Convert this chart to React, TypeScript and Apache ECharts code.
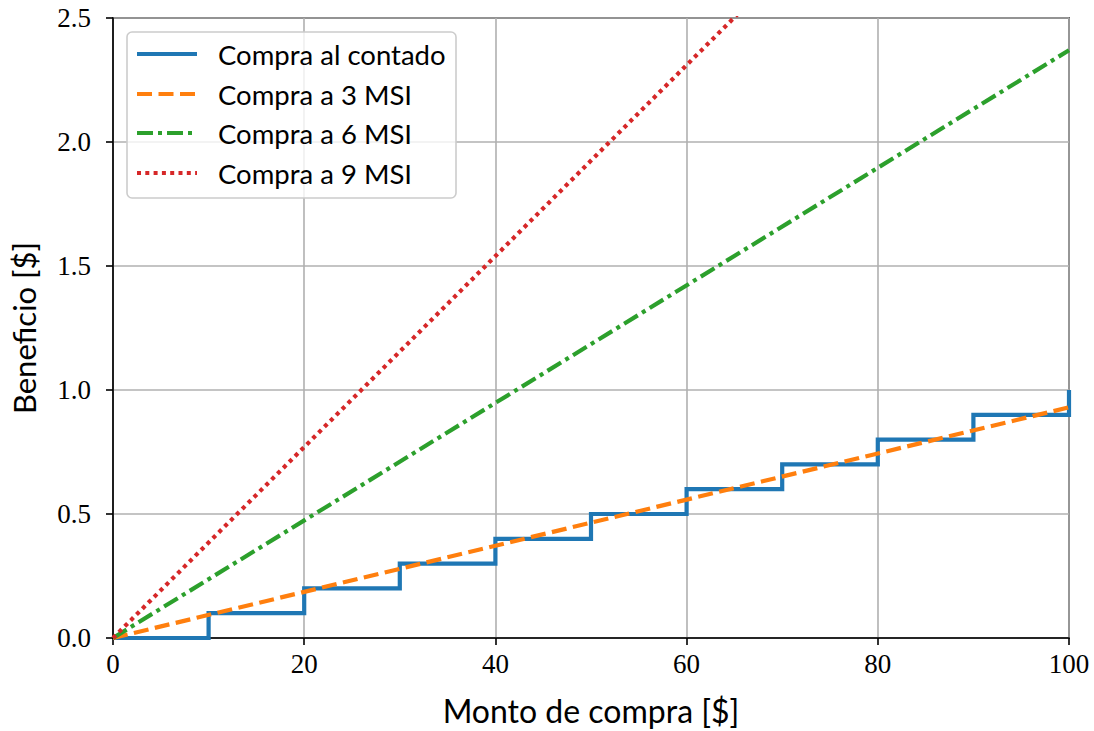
import React, { useEffect, useRef } from "react";
import * as echarts from "echarts";

const montos = [0, 100];
const beneficio3MSI = [0, 0.93];
const beneficio6MSI = [0, 2.37];
const beneficio9MSI = [0, 3.85];
const pasosContado = [0, 10, 20, 30, 40, 50, 60, 70, 80, 90, 100];
const beneficioContado = [0, 0.1, 0.2, 0.3, 0.4, 0.5, 0.6, 0.7, 0.8, 0.9, 1.0];
const nombres = ["Compra al contado", "Compra a 3 MSI", "Compra a 6 MSI", "Compra a 9 MSI"];
const colores = ["#1f77b4", "#ff7f0e", "#2ca02c", "#d62728"];
const xTicks = [0, 20, 40, 60, 80, 100];
const yTicks = [0, 0.5, 1.0, 1.5, 2.0, 2.5];

const SANS = "Lato, 'Noto Sans', 'DejaVu Sans', sans-serif";
const SERIF = "'Liberation Serif', 'DejaVu Serif', serif";

const LW = 4.2;
const dashes: (number[] | null)[] = [null, [15, 6.5], [16, 5, 4, 5], [4, 4.3]];

export default function App() {
  const ref = useRef<HTMLDivElement>(null);
  useEffect(() => {
    if (!ref.current) return;
    const chart = echarts.init(ref.current, null, { renderer: "svg" });
    const pair = (xs: number[], ys: number[]) => xs.map((x, i) => [x, ys[i]]);

    const legendX = 127;
    const legendY = 32;
    const rowY = [54, 94, 133, 173];
    const legendItems: any[] = [
      {
        type: "rect",
        shape: { x: legendX, y: legendY, width: 329, height: 166, r: 5 },
        style: { fill: "rgba(255,255,255,0.8)", stroke: "#cccccc", lineWidth: 1.6 },
        z: 50,
      },
    ];
    nombres.forEach((n, i) => {
      legendItems.push({
        type: "line",
        shape: { x1: 137, y1: rowY[i], x2: 197, y2: rowY[i] },
        style: {
          stroke: colores[i],
          lineWidth: LW,
          lineDash: dashes[i] || undefined,
          lineCap: "butt",
        },
        z: 51,
      });
      legendItems.push({
        type: "text",
        x: 218,
        y: rowY[i],
        style: {
          text: n,
          fontFamily: SANS,
          fontSize: 27.5,
          fill: "#000",
          verticalAlign: "middle",
          align: "left",
        },
        z: 51,
      });
    });

    const axisCommon = {
      axisLine: { show: true, onZero: false, lineStyle: { color: "#000", width: 1.6 } },
      axisTick: { show: true, length: 7, lineStyle: { color: "#000", width: 1.6 } },
      splitLine: { show: true, lineStyle: { color: "#b0b0b0", width: 1.6 } },
    };

    chart.setOption({
      animation: false,
      backgroundColor: "#ffffff",
      grid: {
        left: 113,
        right: 25,
        top: 18,
        bottom: 93,
        show: true,
        borderColor: "#000",
        borderWidth: 1.6,
        backgroundColor: "transparent",
        outerBoundsMode: "none",
        containLabel: false,
      },
      xAxis: {
        type: "value",
        min: 0,
        max: 100,
        interval: 20,
        name: "Monto de compra [$]",
        nameLocation: "middle",
        nameGap: 56,
        nameTextStyle: { fontFamily: SANS, fontSize: 32, color: "#000" },
        ...axisCommon,
        axisLabel: {
          fontFamily: SERIF,
          fontSize: 27,
          color: "#000",
          margin: 12,
          formatter: (v: number) => (xTicks.includes(v) ? String(v) : ""),
        },
      },
      yAxis: {
        type: "value",
        min: 0,
        max: 2.5,
        interval: 0.5,
        name: "Beneficio [$]",
        nameLocation: "middle",
        nameGap: 74,
        nameTextStyle: { fontFamily: SANS, fontSize: 31, color: "#000" },
        ...axisCommon,
        axisLabel: {
          fontFamily: SERIF,
          fontSize: 27,
          color: "#000",
          margin: 22,
          formatter: (v: number) =>
            yTicks.some((t) => Math.abs(t - v) < 1e-9) ? v.toFixed(1) : "",
        },
      },
      series: [
        {
          name: nombres[0],
          type: "line",
          step: "end",
          symbol: "none",
          data: pair(pasosContado, beneficioContado),
          lineStyle: { color: colores[0], width: LW, cap: "butt", join: "miter" },
          z: 2,
        },
        {
          name: nombres[1],
          type: "line",
          symbol: "none",
          data: pair(montos, beneficio3MSI),
          lineStyle: { color: colores[1], width: LW, type: dashes[1], cap: "butt" },
          z: 3,
        },
        {
          name: nombres[2],
          type: "line",
          symbol: "none",
          data: pair(montos, beneficio6MSI),
          lineStyle: { color: colores[2], width: LW, type: dashes[2], cap: "butt" },
          z: 4,
        },
        {
          name: nombres[3],
          type: "line",
          symbol: "none",
          data: pair(montos, beneficio9MSI),
          lineStyle: { color: colores[3], width: LW, type: dashes[3], cap: "butt" },
          z: 5,
        },
      ],
      graphic: legendItems,
    });
    return () => chart.dispose();
  }, []);
  return (
    <div
      ref={ref}
      style={{ position: "fixed", left: 0, top: 0, width: 1094, height: 731 }}
    />
  );
}
